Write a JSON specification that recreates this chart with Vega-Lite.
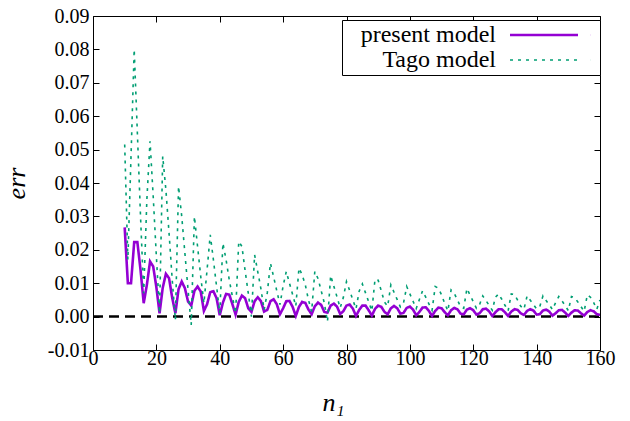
{
 "$schema": "https://vega.github.io/schema/vega-lite/v6.json",
 "width": 507, "height": 334,
 "autosize": "none",
 "padding": {"left": 93, "top": 16, "right": 30, "bottom": 71},
 "background": "white",
 "config": {
   "view": {"stroke": "black", "strokeWidth": 1},
   "font": "Liberation Serif",
   "axis": {"domain": false, "grid": false, "tickColor": "black", "tickSize": -6, "tickWidth": 1, "labelFlush": false,
            "labelFont": "Liberation Serif", "labelFontSize": 20, "labelColor": "black",
            "titleFont": "Liberation Serif", "titleFontSize": 26, "titleFontStyle": "italic", "titleFontWeight": "normal", "titleColor": "black"},
   "legend": {"orient": "none", "legendX": 249, "legendY": 4, "labelFont": "Liberation Serif", "labelFontSize": 24, "labelColor": "black",
              "symbolType": "M-3.4,0H3.4M4.69,0H4.7", "symbolSize": 400, "symbolStrokeWidth": 2.5,
              "strokeColor": "black", "padding": 3, "rowPadding": 1, "fillColor": "white"}
 },
 "layer": [
  {
   "data": {"values": [{"a": 0}]},
   "mark": {"type": "rule", "color": "black", "strokeWidth": 2.5, "strokeDash": [10, 6]},
   "encoding": {
     "x": {"datum": 0, "type": "quantitative", "axis": {"orient": "top", "labels": false, "title": null, "values": [0,20,40,60,80,100,120,140,160]}},
     "x2": {"datum": 160},
     "y": {"datum": 0, "type": "quantitative", "axis": {"orient": "right", "labels": false, "title": null, "values": [-0.01,0,0.01,0.02,0.03,0.04,0.05,0.06,0.07,0.08,0.09]}}
   }
  },
  {
   "data": {"values": [
{"n":10,"p":0.0267,"t":0.0515},{"n":11,"p":0.0100,"t":0.0170},{"n":12,"p":0.0100,"t":0.0480},{"n":13,"p":0.0223,"t":0.0800},{"n":14,"p":0.0223,"t":0.0550},
{"n":15,"p":0.0140,"t":0.0300},{"n":16,"p":0.0040,"t":0.0070},{"n":17,"p":0.0095,"t":0.0350},{"n":18,"p":0.0165,"t":0.0525},{"n":19,"p":0.0150,"t":0.0360},
{"n":20,"p":0.0088,"t":0.0180},{"n":21,"p":0.0010,"t":0.0010},{"n":22,"p":0.0086,"t":0.0480},{"n":23,"p":0.0128,"t":0.0380},{"n":24,"p":0.0115,"t":0.0250},
{"n":25,"p":0.0056,"t":0.0110},{"n":26,"p":0.0010,"t":-0.0010},{"n":27,"p":0.0082,"t":0.0390},{"n":28,"p":0.0105,"t":0.0300},{"n":29,"p":0.0085,"t":0.0190},
{"n":30,"p":0.0045,"t":0.0080},{"n":31,"p":0.0033,"t":-0.0025},{"n":32,"p":0.0077,"t":0.0300},{"n":33,"p":0.0090,"t":0.0210},{"n":34,"p":0.0075,"t":0.0120},
{"n":35,"p":0.0017,"t":0.0040},{"n":36,"p":0.0037,"t":0.0140},{"n":37,"p":0.0073,"t":0.0245},{"n":38,"p":0.0076,"t":0.0170},{"n":39,"p":0.0055,"t":0.0090},
{"n":40,"p":0.0004,"t":0.0010},{"n":41,"p":0.0042,"t":0.0220},{"n":42,"p":0.0068,"t":0.0170},{"n":43,"p":0.0066,"t":0.0110},{"n":44,"p":0.0037,"t":0.0060},
{"n":45,"p":0.0006,"t":0.0010},{"n":46,"p":0.0044,"t":0.0225},{"n":47,"p":0.0063,"t":0.0210},{"n":48,"p":0.0055,"t":0.0138},{"n":49,"p":0.0025,"t":0.0070},
{"n":50,"p":0.0014,"t":0.0000},{"n":51,"p":0.0046,"t":0.0185},{"n":52,"p":0.0058,"t":0.0134},{"n":53,"p":0.0046,"t":0.0083},{"n":54,"p":0.0015,"t":0.0020},
{"n":55,"p":0.0020,"t":0.0071},{"n":56,"p":0.0046,"t":0.0160},{"n":57,"p":0.0052,"t":0.0119},{"n":58,"p":0.0037,"t":0.0077},{"n":59,"p":0.0007,"t":0.0036},
{"n":60,"p":0.0025,"t":0.0092},{"n":61,"p":0.0046,"t":0.0135},{"n":62,"p":0.0047,"t":0.0100},{"n":63,"p":0.0029,"t":0.0066},{"n":64,"p":0.0002,"t":0.0031},
{"n":65,"p":0.0029,"t":0.0145},{"n":66,"p":0.0044,"t":0.0125},{"n":67,"p":0.0041,"t":0.0095},{"n":68,"p":0.0021,"t":0.0050},{"n":69,"p":0.0007,"t":0.0015},
{"n":70,"p":0.0031,"t":0.0135},{"n":71,"p":0.0042,"t":0.0114},{"n":72,"p":0.0035,"t":0.0078},{"n":73,"p":0.0014,"t":0.0041},{"n":74,"p":0.0012,"t":-0.0015},
{"n":75,"p":0.0033,"t":0.0123},{"n":76,"p":0.0039,"t":0.0091},{"n":77,"p":0.0030,"t":0.0059},{"n":78,"p":0.0008,"t":0.0026},{"n":79,"p":0.0016,"t":0.0057},
{"n":80,"p":0.0033,"t":0.0105},{"n":81,"p":0.0036,"t":0.0078},{"n":82,"p":0.0024,"t":0.0050},{"n":83,"p":0.0002,"t":0.0023},{"n":84,"p":0.0020,"t":0.0076},
{"n":85,"p":0.0033,"t":0.0098},{"n":86,"p":0.0033,"t":0.0071},{"n":87,"p":0.0019,"t":0.0044},{"n":88,"p":0.0003,"t":0.0017},{"n":89,"p":0.0023,"t":0.0112},
{"n":90,"p":0.0033,"t":0.0109},{"n":91,"p":0.0029,"t":0.0076},{"n":92,"p":0.0014,"t":0.0043},{"n":93,"p":0.0007,"t":0.0031},{"n":94,"p":0.0025,"t":0.0095},
{"n":95,"p":0.0032,"t":0.0073},{"n":96,"p":0.0025,"t":0.0051},{"n":97,"p":0.0009,"t":0.0029},{"n":98,"p":0.0011,"t":0.0041},{"n":99,"p":0.0026,"t":0.0090},
{"n":100,"p":0.0030,"t":0.0068},{"n":101,"p":0.0021,"t":0.0046},{"n":102,"p":0.0004,"t":0.0024},{"n":103,"p":0.0014,"t":0.0051},{"n":104,"p":0.0027,"t":0.0077},
{"n":105,"p":0.0028,"t":0.0058},{"n":106,"p":0.0017,"t":0.0038},{"n":107,"p":0.0002,"t":0.0019},{"n":108,"p":0.0017,"t":0.0090},{"n":109,"p":0.0027,"t":0.0085},
{"n":110,"p":0.0025,"t":0.0065},{"n":111,"p":0.0013,"t":0.0039},{"n":112,"p":0.0004,"t":0.0017},{"n":113,"p":0.0019,"t":0.0080},{"n":114,"p":0.0026,"t":0.0070},
{"n":115,"p":0.0022,"t":0.0050},{"n":116,"p":0.0009,"t":0.0030},{"n":117,"p":0.0007,"t":0.0025},{"n":118,"p":0.0021,"t":0.0084},{"n":119,"p":0.0025,"t":0.0064},
{"n":120,"p":0.0019,"t":0.0045},{"n":121,"p":0.0006,"t":0.0025},{"n":122,"p":0.0010,"t":0.0036},{"n":123,"p":0.0022,"t":0.0062},{"n":124,"p":0.0024,"t":0.0048},
{"n":125,"p":0.0016,"t":0.0034},{"n":126,"p":0.0002,"t":0.0019},{"n":127,"p":0.0013,"t":0.0058},{"n":128,"p":0.0022,"t":0.0068},{"n":129,"p":0.0022,"t":0.0052},
{"n":130,"p":0.0013,"t":0.0034},{"n":131,"p":0.0002,"t":0.0017},{"n":132,"p":0.0015,"t":0.0068},{"n":133,"p":0.0022,"t":0.0066},{"n":134,"p":0.0020,"t":0.0049},
{"n":135,"p":0.0010,"t":0.0031},{"n":136,"p":0.0005,"t":0.0022},{"n":137,"p":0.0017,"t":0.0062},{"n":138,"p":0.0022,"t":0.0049},{"n":139,"p":0.0018,"t":0.0036},
{"n":140,"p":0.0006,"t":0.0023},{"n":141,"p":0.0007,"t":0.0030},{"n":142,"p":0.0018,"t":0.0062},{"n":143,"p":0.0021,"t":0.0048},{"n":144,"p":0.0015,"t":0.0035},
{"n":145,"p":0.0003,"t":0.0021},{"n":146,"p":0.0010,"t":0.0042},{"n":147,"p":0.0019,"t":0.0060},{"n":148,"p":0.0020,"t":0.0047},{"n":149,"p":0.0012,"t":0.0033},
{"n":150,"p":0.0002,"t":0.0018},{"n":151,"p":0.0012,"t":0.0060},{"n":152,"p":0.0019,"t":0.0057},{"n":153,"p":0.0018,"t":0.0044},{"n":154,"p":0.0010,"t":0.0030},
{"n":155,"p":0.0003,"t":0.0016},{"n":156,"p":0.0014,"t":0.0065},{"n":157,"p":0.0019,"t":0.0058},{"n":158,"p":0.0016,"t":0.0042},{"n":159,"p":0.0007,"t":0.0022},
{"n":160,"p":0.0005,"t":0.0050}
   ]},
   "transform": [{"fold": ["p", "t"], "as": ["model", "err"]}],
   "mark": {"type": "line", "clip": true},
   "encoding": {
     "x": {"field": "n", "type": "quantitative", "scale": {"domain": [0, 160], "nice": false},
           "axis": {"orient": "bottom", "values": [0,20,40,60,80,100,120,140,160], "labelPadding": 4, "labelFlush": false, "labelFont": "Liberation Serif",
                    "title": "n₁", "titleFont": "Liberation Serif", "titleX": 240, "titleY": 60, "titleBaseline": "alphabetic", "titleAlign": "center"}},
     "y": {"field": "err", "type": "quantitative", "scale": {"domain": [-0.01, 0.09], "nice": false, "zero": false},
           "axis": {"orient": "left", "values": [-0.01,0,0.01,0.02,0.03,0.04,0.05,0.06,0.07,0.08,0.09], "labelPadding": 10, "labelFont": "Liberation Serif",
                    "labelExpr": "replace(format(datum.value, '.2f'), '\u2212', '-')",
                    "title": "err", "titleFont": "Liberation Serif", "titleX": -77, "titleY": 167, "titleBaseline": "middle", "titleAlign": "center", "titleAngle": -90}},
     "color": {"field": "model", "type": "nominal", "scale": {"domain": ["p", "t"], "range": ["#9400D3", "#009E73"]},
               "legend": {"title": null, "labelExpr": "datum.label == 'p' ? 'present model' : 'Tago model'",
                          "encode": {"symbols": {"update": {"x": {"value": 199}, "shape": {"value": "M-3.4,0H3.4M4.69,0H4.7"}, "size": {"value": 400}}},
                                     "labels": {"update": {"x": {"value": 151}, "align": {"value": "right"}}}}}},
     "strokeDash": {"field": "model", "type": "nominal", "scale": {"domain": ["p", "t"], "range": [[1, 0], [3, 5]]},
               "legend": {"title": null, "labelExpr": "datum.label == 'p' ? 'present model' : 'Tago model'",
                          "encode": {"symbols": {"update": {"x": {"value": 199}, "shape": {"value": "M-3.4,0H3.4M4.69,0H4.7"}, "size": {"value": 400}}},
                                     "labels": {"update": {"x": {"value": 151}, "align": {"value": "right"}}}}}},
     "strokeWidth": {"field": "model", "type": "nominal", "scale": {"domain": ["p", "t"], "range": [2.6, 1.6]}, "legend": null}
   }
  }
 ]
}
